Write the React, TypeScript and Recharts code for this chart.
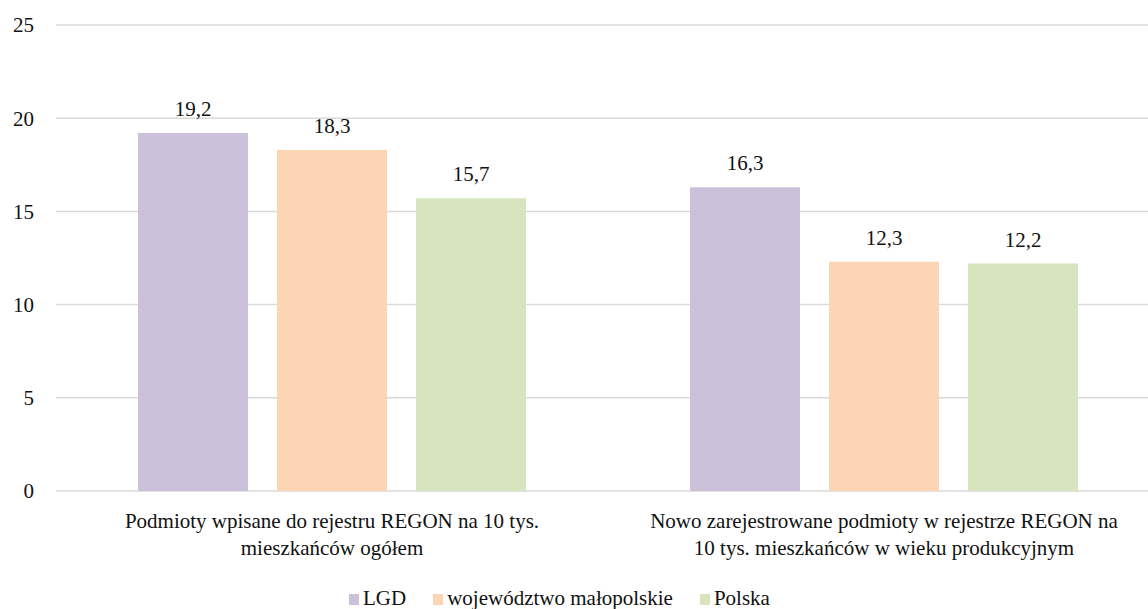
import { Bar, BarChart, CartesianGrid, LabelList, XAxis, YAxis } from "recharts";

const categoryLines = [
  ["Podmioty wpisane do rejestru REGON na 10 tys.", "mieszkańców ogółem"],
  ["Nowo zarejestrowane podmioty w rejestrze REGON na", "10 tys. mieszkańców w wieku produkcyjnym"],
];
const categories = categoryLines.map((l) => l.join(" "));

const seriesNames = ["LGD", "województwo małopolskie", "Polska"];
const seriesColors = ["#CBC1DA", "#FCD5B5", "#D7E4BD"];
const lgdValues = [19.2, 16.3];
const malopolskaValues = [18.3, 12.3];
const polskaValues = [15.7, 12.2];
const yTicks = [0, 5, 10, 15, 20, 25];

const seriesKeys = ["lgd", "mal", "pl"];
const data = categories.map((name, i) => ({
  name,
  lgd: lgdValues[i],
  mal: malopolskaValues[i],
  pl: polskaValues[i],
}));

const serif = `"Liberation Serif", serif`;
const fmt = (v: any) => Number(v).toFixed(1).replace(".", ",");

const css = `
.chart-root, .chart-root * { font-family: "Liberation Serif", serif !important; }
.chart-root text, .chart-root tspan { font-size: 21px !important; }
.chart-legend, .chart-legend span { font-size: 21px !important; }
`;

function CategoryTick({ x, y, payload }: any) {
  const idx = categories.indexOf(payload.value);
  const lines = categoryLines[idx] || [payload.value];
  return (
    <g transform={`translate(${x},${y})`}>
      {lines.map((line, i) => (
        <text
          key={i}
          x={0}
          y={37 + i * 27}
          textAnchor="middle"
          style={{ fontFamily: serif, fontSize: "21px" }}
          fill="#111"
        >
          {line}
        </text>
      ))}
    </g>
  );
}

function ValueLabel({ x, y, width, value }: any) {
  return (
    <text
      x={x + width / 2}
      y={y - 17}
      textAnchor="middle"
      style={{ fontFamily: serif, fontSize: "21px" }}
      fill="#111"
    >
      {fmt(value)}
    </text>
  );
}

export default function App() {
  return (
    <div
      className="chart-root"
      style={{
        position: "absolute",
        left: 0,
        top: 0,
        width: 1148,
        height: 609,
        overflow: "hidden",
        background: "#fff",
        fontFamily: serif,
      }}
    >
      <style>{css}</style>
      <BarChart
        width={1200}
        height={609}
        data={data}
        margin={{ top: 25, right: 40, left: 0, bottom: 88 }}
        barGap={29}
        barCategoryGap={82}
      >
        <CartesianGrid vertical={false} stroke="#d9d9d9" strokeWidth={1.5} />
        <XAxis
          dataKey="name"
          height={30}
          axisLine={false}
          tickLine={false}
          tickSize={0}
          tickMargin={0}
          interval={0}
          tick={<CategoryTick />}
        />
        <YAxis
          width={56}
          domain={[0, 25]}
          ticks={yTicks}
          axisLine={false}
          tickLine={false}
          tickSize={0}
          tickMargin={22}
          tick={{ fill: "#111", style: { fontFamily: serif, fontSize: "21px" } }}
        />
        {seriesKeys.map((k, i) => (
          <Bar
            key={k}
            dataKey={k}
            name={seriesNames[i]}
            fill={seriesColors[i]}
            isAnimationActive={false}
          >
            <LabelList dataKey={k} content={<ValueLabel />} />
          </Bar>
        ))}
      </BarChart>
      <div
        className="chart-legend"
        style={{
          position: "absolute",
          left: 349,
          top: 586,
          display: "flex",
          gap: 27,
          fontFamily: serif,
          fontSize: "21px",
          lineHeight: "24px",
          color: "#111",
          whiteSpace: "nowrap",
        }}
      >
        {seriesNames.map((n, i) => (
          <div key={n} style={{ display: "flex", alignItems: "flex-end" }}>
            <span
              style={{
                display: "inline-block",
                width: 10,
                height: 11,
                background: seriesColors[i],
                marginRight: 4,
                marginBottom: 5,
              }}
            />
            <span>{n}</span>
          </div>
        ))}
      </div>
    </div>
  );
}
